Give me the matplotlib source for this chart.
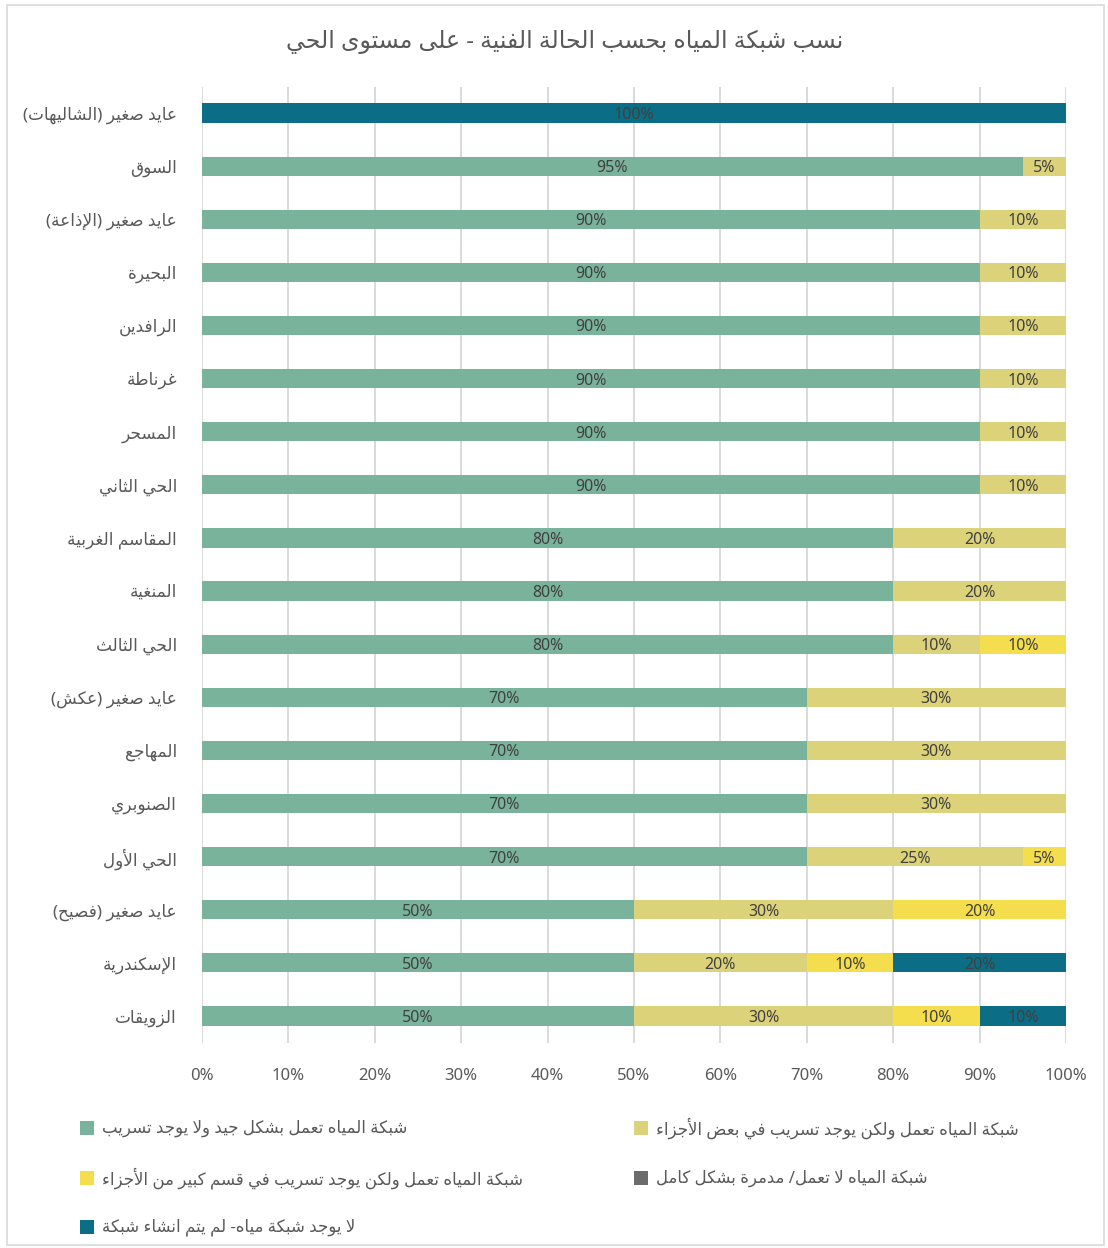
import matplotlib
matplotlib.use("Agg")
import matplotlib.pyplot as plt
from matplotlib.patches import Rectangle
import numpy as np

# ── data ────────────────────────────────────────────────────────────────
title = "نسب شبكة المياه بحسب الحالة الفنية - على مستوى الحي"

districts = [
    "عايد صغير (الشاليهات)", "السوق", "عايد صغير (الإذاعة)", "البحيرة",
    "الرافدين", "غرناطة", "المسحر", "الحي الثاني", "المقاسم الغربية",
    "المنغية", "الحي الثالث", "عايد صغير (عكش)", "المهاجع", "الصنوبري",
    "الحي الأول", "عايد صغير (فصيح)", "الإسكندرية", "الزويقات",
]

good = [0, 95, 90, 90, 90, 90, 90, 90, 80, 80, 80, 70, 70, 70, 70, 50, 50, 50]
leak_some = [0, 5, 10, 10, 10, 10, 10, 10, 20, 20, 10, 30, 30, 30, 25, 30, 20, 30]
leak_large = [0, 0, 0, 0, 0, 0, 0, 0, 0, 0, 10, 0, 0, 0, 5, 20, 10, 10]
broken = [0] * 18
no_network = [100, 0, 0, 0, 0, 0, 0, 0, 0, 0, 0, 0, 0, 0, 0, 0, 20, 10]

series_names = [
    "شبكة المياه تعمل بشكل جيد ولا يوجد تسريب",
    "شبكة المياه تعمل ولكن يوجد تسريب في بعض الأجزاء",
    "شبكة المياه تعمل ولكن يوجد تسريب في قسم كبير من الأجزاء",
    "شبكة المياه لا تعمل/ مدمرة بشكل كامل",
    "لا يوجد شبكة مياه- لم يتم انشاء شبكة",
]
series_colors = ["#7ab39c", "#dcd27a", "#f5de4e", "#6b6b6b", "#0b6e86"]
x_ticks = [0, 10, 20, 30, 40, 50, 60, 70, 80, 90, 100]

# ── minimal Arabic shaping (matplotlib does no shaping / bidi) ────────────
# char -> (first presentation form, number of forms: iso, fin, ini, med)
FORMS = {
    0x0621: (0xFE80, 1), 0x0622: (0xFE81, 2), 0x0623: (0xFE83, 2),
    0x0624: (0xFE85, 2), 0x0625: (0xFE87, 2), 0x0626: (0xFE89, 4),
    0x0627: (0xFE8D, 2), 0x0628: (0xFE8F, 4), 0x0629: (0xFE93, 2),
    0x062A: (0xFE95, 4), 0x062B: (0xFE99, 4), 0x062C: (0xFE9D, 4),
    0x062D: (0xFEA1, 4), 0x062E: (0xFEA5, 4), 0x062F: (0xFEA9, 2),
    0x0630: (0xFEAB, 2), 0x0631: (0xFEAD, 2), 0x0632: (0xFEAF, 2),
    0x0633: (0xFEB1, 4), 0x0634: (0xFEB5, 4), 0x0635: (0xFEB9, 4),
    0x0636: (0xFEBD, 4), 0x0637: (0xFEC1, 4), 0x0638: (0xFEC5, 4),
    0x0639: (0xFEC9, 4), 0x063A: (0xFECD, 4), 0x0641: (0xFED1, 4),
    0x0642: (0xFED5, 4), 0x0643: (0xFED9, 4), 0x0644: (0xFEDD, 4),
    0x0645: (0xFEE1, 4), 0x0646: (0xFEE5, 4), 0x0647: (0xFEE9, 4),
    0x0648: (0xFEED, 2), 0x0649: (0xFEEF, 2), 0x064A: (0xFEF1, 4),
}
FORMS = {chr(k): v for k, v in FORMS.items()}
LAM_ALEF = {"آ": 0xFEF5, "أ": 0xFEF7, "إ": 0xFEF9, "ا": 0xFEFB}
MIRROR = {"(": ")", ")": "("}


def ar(s):
    """Shape Arabic letters and reverse to visual order."""
    out, prev, i, n = [], False, 0, len(s)
    while i < n:
        c = s[i]
        if c not in FORMS:
            out.append(c)
            prev = False
            i += 1
            continue
        if c == "ل" and i + 1 < n and s[i + 1] in LAM_ALEF:
            out.append(chr(LAM_ALEF[s[i + 1]] + (1 if prev else 0)))
            prev = False
            i += 2
            continue
        base, nf = FORMS[c]
        nxt = s[i + 1] if i + 1 < n else ""
        to_next = nf == 4 and nxt in FORMS and FORMS[nxt][1] > 1
        to_prev = prev and nf > 1
        if nf == 1:
            form = 0
        elif to_prev and to_next:
            form = 3
        elif to_prev:
            form = 1
        elif to_next:
            form = 2
        else:
            form = 0
        out.append(chr(base + form))
        prev = nf == 4
        i += 1
    return "".join(MIRROR.get(ch, ch) for ch in reversed(out))


# ── plot ─────────────────────────────────────────────────────────────────
plt.rcParams["font.family"] = ["Noto Sans", "DejaVu Sans"]
TXT = "#595959"

fig = plt.figure(figsize=(11.08, 12.48), dpi=100)
fig.patches.append(Rectangle((7 / 1108, 3 / 1248), 1097 / 1108, 1240 / 1248,
                             transform=fig.transFigure, fill=False,
                             edgecolor="#d9d9d9", linewidth=1.2))

ax = fig.add_axes([202 / 1108, 1 - 1042.5 / 1248, 864 / 1108, 956 / 1248])

y = np.arange(len(districts))
series = [good, leak_some, leak_large, broken, no_network]
left = np.zeros(len(districts))
for vals, color in zip(series, series_colors):
    vals = np.array(vals, dtype=float)
    ax.barh(y, vals, left=left, height=0.36, color=color, zorder=2)
    for yi, (l, v) in enumerate(zip(left, vals)):
        if v > 0:
            ax.text(l + v / 2, yi, f"{int(v)}%", ha="center",
                    va="center_baseline", fontsize=11.5, color="#404040",
                    zorder=3)
    left += vals

ax.set_ylim(len(districts) - 0.5, -0.5)
ax.set_xlim(0, 100)
ax.set_yticks(y)
ax.set_yticklabels([ar(d) for d in districts], fontsize=12.2, color=TXT)
ax.set_xticks(x_ticks)
ax.set_xticklabels([f"{t}%" for t in x_ticks], fontsize=12, color=TXT)
ax.tick_params(axis="both", length=0)
ax.tick_params(axis="y", pad=18)
ax.tick_params(axis="x", pad=18)
ax.xaxis.grid(True, color="#d9d9d9", linewidth=1.4, zorder=0)
ax.set_axisbelow(True)
for sp in ax.spines.values():
    sp.set_visible(False)

fig.text(565 / 1108, 1 - 42 / 1248, ar(title), ha="center", va="center",
         fontsize=17, color=TXT)

# legend: two columns, drawn by hand to follow the reference layout
leg_pos = [(80, 1128), (634, 1128), (80, 1178), (634, 1178), (80, 1227)]
for (px, py), name, color in zip(leg_pos, series_names, series_colors):
    fig.patches.append(Rectangle((px / 1108, 1 - (py + 7) / 1248), 14 / 1108,
                                 14 / 1248, transform=fig.transFigure,
                                 facecolor=color, edgecolor="none"))
    fig.text((px + 22) / 1108, 1 - py / 1248, ar(name), ha="left",
             va="center", fontsize=12, color=TXT)

fig.savefig("out.png", dpi=100)
